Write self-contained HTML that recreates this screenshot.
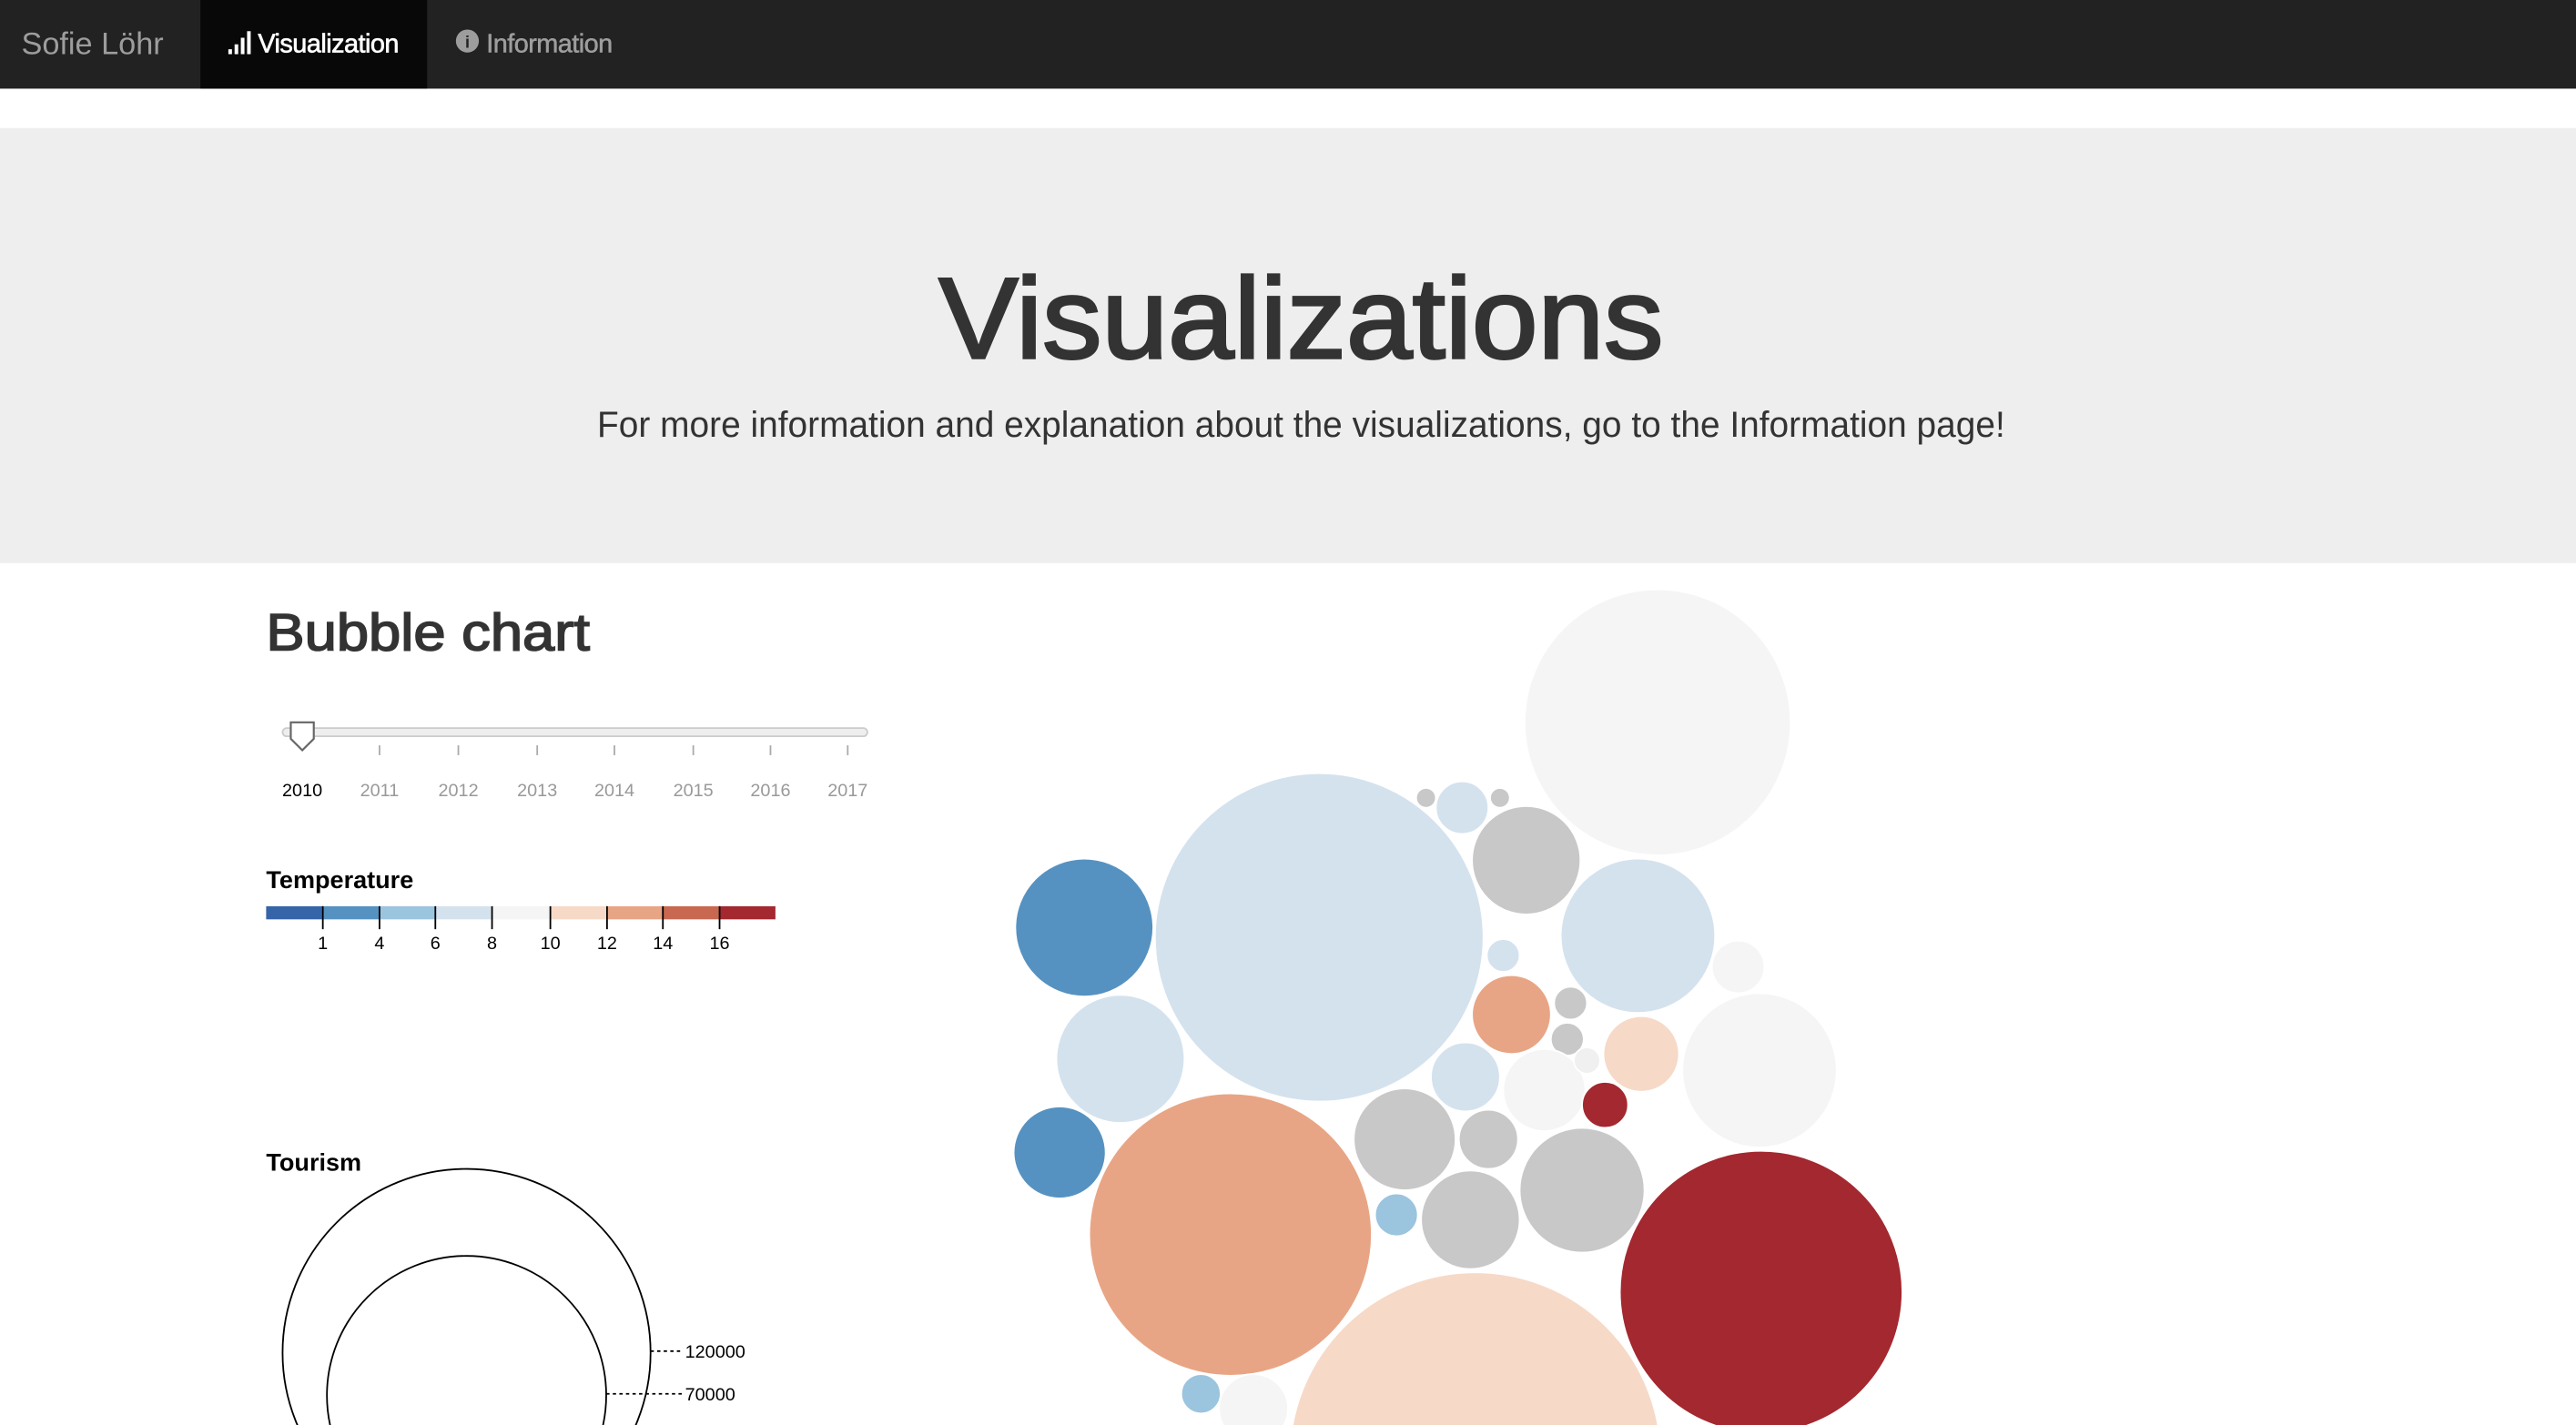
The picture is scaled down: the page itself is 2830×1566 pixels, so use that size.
<!DOCTYPE html>
<html><head><meta charset="utf-8"><style>
html,body{margin:0;padding:0;background:#fff;overflow:hidden;width:2830px;height:1566px}
svg{display:block;position:absolute;left:0;top:0}
text{font-family:"Liberation Sans",Arial,sans-serif}
</style></head><body>
<svg width="2830" height="1566" viewBox="0 0 1568 868" preserveAspectRatio="none" xmlns="http://www.w3.org/2000/svg">
<rect x="0" y="0" width="1568" height="868" fill="#fff"/>
<!-- navbar -->
<rect x="0" y="0" width="1568" height="54" fill="#222"/>
<rect x="122" y="0" width="138" height="54" fill="#080808"/>
<text x="13" y="33" font-size="19" fill="#9d9d9d">Sofie Löhr</text>
<g fill="#fff"><rect x="139" y="30" width="2.2" height="3"/><rect x="142.8" y="27" width="2.2" height="6"/><rect x="146.6" y="23" width="2.2" height="10"/><rect x="150.4" y="19" width="2.2" height="14"/></g>
<text x="157" y="32" font-size="16" fill="#fff" stroke="#fff" stroke-width="0.35" letter-spacing="-0.3">Visualization</text>
<circle cx="284.5" cy="25" r="7" fill="#9d9d9d"/>
<text x="284.5" y="29" font-size="10" font-weight="bold" fill="#222" text-anchor="middle" font-family="Liberation Serif">i</text>
<text x="296" y="32" font-size="16" fill="#9d9d9d" stroke="#9d9d9d" stroke-width="0.3" letter-spacing="-0.3">Information</text>
<!-- jumbotron -->
<rect x="0" y="78" width="1568" height="265" fill="#eee"/>
<text x="792" y="218" font-size="70" fill="#333" stroke="#333" stroke-width="1.6" text-anchor="middle" textLength="441" lengthAdjust="spacingAndGlyphs">Visualizations</text>
<text x="792" y="266" font-size="22" fill="#333" text-anchor="middle" textLength="857" lengthAdjust="spacingAndGlyphs">For more information and explanation about the visualizations, go to the Information page!</text>
<!-- bubble chart title -->
<text x="162" y="396" font-size="32" fill="#333" stroke="#333" stroke-width="0.9" textLength="197" lengthAdjust="spacingAndGlyphs">Bubble chart</text>
<!-- slider -->
<rect x="172" y="443.5" width="356" height="5" rx="2.5" fill="#eee" stroke="#ccc" stroke-width="1"/>
<path d="M177,440 h14 v10 l-7,7 l-7,-7 z" fill="#fff" stroke="#666" stroke-width="1.2"/>
<g stroke="#aaa" stroke-width="1">
<line x1="231" y1="454" x2="231" y2="460"/><line x1="279" y1="454" x2="279" y2="460"/><line x1="327" y1="454" x2="327" y2="460"/><line x1="374" y1="454" x2="374" y2="460"/><line x1="422" y1="454" x2="422" y2="460"/><line x1="469" y1="454" x2="469" y2="460"/><line x1="516" y1="454" x2="516" y2="460"/>
</g>
<g font-size="11" fill="#999" text-anchor="middle">
<text x="184" y="485" fill="#000">2010</text><text x="231" y="485">2011</text><text x="279" y="485">2012</text><text x="327" y="485">2013</text><text x="374" y="485">2014</text><text x="422" y="485">2015</text><text x="469" y="485">2016</text><text x="516" y="485">2017</text>
</g>
<!-- temperature legend -->
<text x="162" y="541" font-size="15" font-weight="bold" fill="#000">Temperature</text>
<rect x="162" y="552" width="35" height="8" fill="#3565a8"/>
<rect x="196" y="552" width="35" height="8" fill="#5592c1"/>
<rect x="230.5" y="552" width="35" height="8" fill="#9bc4de"/>
<rect x="265" y="552" width="35" height="8" fill="#d4e2ee"/>
<rect x="299" y="552" width="36" height="8" fill="#f5f5f5"/>
<rect x="335" y="552" width="35" height="8" fill="#f6d9c7"/>
<rect x="369" y="552" width="35" height="8" fill="#e8a585"/>
<rect x="403" y="552" width="35" height="8" fill="#c96850"/>
<rect x="438" y="552" width="34" height="8" fill="#a3282f"/>
<g stroke="#000" stroke-width="1">
<line x1="196.5" y1="552" x2="196.5" y2="566"/><line x1="231" y1="552" x2="231" y2="566"/><line x1="265" y1="552" x2="265" y2="566"/><line x1="299.5" y1="552" x2="299.5" y2="566"/><line x1="335" y1="552" x2="335" y2="566"/><line x1="369.5" y1="552" x2="369.5" y2="566"/><line x1="403.5" y1="552" x2="403.5" y2="566"/><line x1="438" y1="552" x2="438" y2="566"/>
</g>
<g font-size="11" fill="#000" text-anchor="middle">
<text x="196.5" y="578">1</text><text x="231" y="578">4</text><text x="265" y="578">6</text><text x="299.5" y="578">8</text><text x="335" y="578">10</text><text x="369.5" y="578">12</text><text x="403.5" y="578">14</text><text x="438" y="578">16</text>
</g>
<!-- tourism legend -->
<text x="162" y="713" font-size="15" font-weight="bold" fill="#000">Tourism</text>
<circle cx="284" cy="824" r="112" fill="none" stroke="#000" stroke-width="1"/>
<circle cx="284" cy="850" r="85" fill="none" stroke="#000" stroke-width="1"/>
<line x1="396" y1="823" x2="416" y2="823" stroke="#000" stroke-dasharray="2,2"/>
<line x1="369" y1="849" x2="416" y2="849" stroke="#000" stroke-dasharray="2,2"/>
<text x="417" y="827" font-size="11" fill="#000">120000</text>
<text x="417" y="853" font-size="11" fill="#000">70000</text>
<!-- bubbles -->
<g stroke="#fff" stroke-width="1">
<circle cx="1009" cy="440" r="81" fill="#f5f5f5"/>
<circle cx="803" cy="571" r="100" fill="#d4e2ee"/>
<circle cx="660" cy="565" r="42" fill="#5592c1"/>
<circle cx="682" cy="645" r="39" fill="#d4e2ee"/>
<circle cx="645" cy="702" r="28" fill="#5592c1"/>
<circle cx="749" cy="752" r="86" fill="#e8a585"/>
<circle cx="898" cy="888" r="113" fill="#f6d9c7"/>
<circle cx="1072" cy="787" r="86" fill="#a3282f"/>
<circle cx="997" cy="570" r="47" fill="#d4e2ee"/>
<circle cx="929" cy="524" r="33" fill="#c8c8c8"/>
<circle cx="890" cy="492" r="16" fill="#d4e2ee"/>
<circle cx="868" cy="486" r="6" fill="#c8c8c8"/>
<circle cx="913" cy="486" r="6" fill="#c8c8c8"/>
<circle cx="1058" cy="589" r="16" fill="#f5f5f5"/>
<circle cx="1071" cy="652" r="47" fill="#f5f5f5"/>
<circle cx="920" cy="618" r="24" fill="#e8a585"/>
<circle cx="915" cy="582" r="10" fill="#d4e2ee"/>
<circle cx="956" cy="611" r="10" fill="#c8c8c8"/>
<circle cx="954" cy="633" r="10" fill="#c8c8c8"/>
<circle cx="999" cy="642" r="23" fill="#f6d9c7"/>
<circle cx="940" cy="664" r="25" fill="#f5f5f5"/>
<circle cx="966" cy="646" r="8" fill="#f0f0f0"/>
<circle cx="892" cy="656" r="21" fill="#d4e2ee"/>
<circle cx="977" cy="673" r="14" fill="#a3282f"/>
<circle cx="855" cy="694" r="31" fill="#c8c8c8"/>
<circle cx="906" cy="694" r="18" fill="#c8c8c8"/>
<circle cx="963" cy="725" r="38" fill="#c8c8c8"/>
<circle cx="895" cy="743" r="30" fill="#c8c8c8"/>
<circle cx="850" cy="740" r="13" fill="#9bc4de"/>
<circle cx="731" cy="849" r="12" fill="#9bc4de"/>
<circle cx="763" cy="858" r="21" fill="#f5f5f5"/>
</g>
</svg>
</body></html>
